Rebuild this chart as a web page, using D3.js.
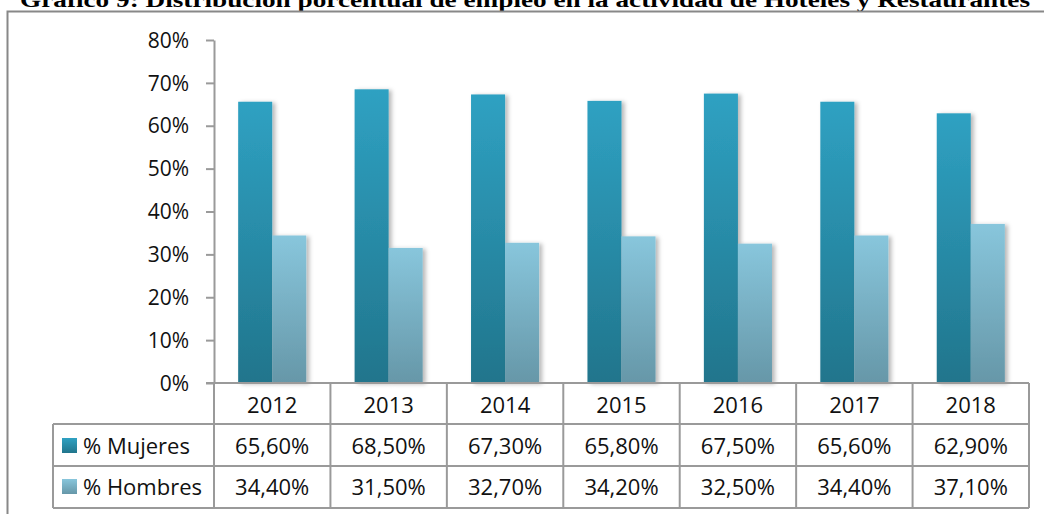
<!DOCTYPE html>
<html>
<head>
<meta charset="utf-8">
<script src="https://cdn.jsdelivr.net/npm/d3@7"></script>
<style>
  body { margin: 0; background: #fff; }
  svg { display: block; }
</style>
</head>
<body>
<div id="chart"></div>
<script>
var width = 1044,
    height = 514;

var years = ["2012", "2013", "2014", "2015", "2016", "2017", "2018"];
var mujeres = [65.6, 68.5, 67.3, 65.8, 67.5, 65.6, 62.9];
var hombres = [34.4, 31.5, 32.7, 34.2, 32.5, 34.4, 37.1];
var seriesNames = ["% Mujeres", "% Hombres"];
var yTicks = [0, 10, 20, 30, 40, 50, 60, 70, 80];

var fmt = function(v) { return v.toFixed(2).replace(".", ",") + "%"; };
var font = "'Open Sans', sans-serif";
var lineCol = "#9a9a9a";

var svg = d3.select("#chart")
    .append("svg")
    .attr("width", width)
    .attr("height", height);

var defs = svg.append("defs");

var grads = [["gMuj", "#2fa1c2", "#21758c"], ["gHom", "#88c6dc", "#6697a8"]];
grads.forEach(function(g) {
    var lg = defs.append("linearGradient")
        .attr("id", g[0])
        .attr("x1", 0).attr("y1", 0).attr("x2", 0).attr("y2", 1);
    lg.append("stop").attr("offset", "0%").attr("stop-color", g[1]);
    lg.append("stop").attr("offset", "100%").attr("stop-color", g[2]);
});

defs.append("filter")
    .attr("id", "shadow")
    .attr("x", "-20%").attr("y", "-5%").attr("width", "150%").attr("height", "110%")
    .append("feDropShadow")
    .attr("dx", 3).attr("dy", 1)
    .attr("stdDeviation", 2)
    .attr("flood-color", "#000")
    .attr("flood-opacity", 0.28);

// titulo (cortado arriba)
svg.append("text")
    .attr("x", 20)
    .attr("y", 7)
    .attr("textLength", 1010)
    .attr("lengthAdjust", "spacingAndGlyphs")
    .style("font-family", "'Liberation Serif', 'Times New Roman', serif")
    .style("font-weight", "bold")
    .style("font-size", "21px")
    .style("fill", "#000")
    .text("Gráfico 9: Distribución porcentual de empleo en la actividad de Hoteles y Restaurantes");

// marco exterior
svg.append("path")
    .attr("d", "M7.5,514 V11.5 H1044")
    .style("fill", "none")
    .style("stroke", "#888")
    .style("stroke-width", 2);

var x = d3.scaleBand()
    .domain(years)
    .range([214, 1029]);

var x1 = d3.scaleBand()
    .domain(seriesNames)
    .range([0, x.bandwidth()])
    .paddingOuter(0.71);

var y = d3.scaleLinear()
    .domain([0, 80])
    .range([383, 40]);

// eje Y
var yAxis = svg.append("g")
    .attr("transform", "translate(214,0)")
    .call(d3.axisLeft(y).tickValues(yTicks).tickSize(8).tickSizeOuter(0)
        .tickFormat(function(d) { return d + "%"; }));
yAxis.select(".domain").style("stroke", lineCol).style("stroke-width", 2);
yAxis.selectAll(".tick line").style("stroke", lineCol).style("stroke-width", 2);
yAxis.selectAll(".tick text")
    .attr("x", -25)
    .attr("dy", "0.34em")
    .style("font-family", font)
    .style("font-size", "21px")
    .style("fill", "#111");

// barras
var series = [mujeres, hombres];
var fills = ["url(#gMuj)", "url(#gHom)"];
series.forEach(function(vals, s) {
    svg.append("g")
        .attr("filter", "url(#shadow)")
        .selectAll("rect")
        .data(vals)
        .enter()
        .append("rect")
        .attr("x", function(d, i) { return x(years[i]) + x1(seriesNames[s]); })
        .attr("y", function(d) { return y(d); })
        .attr("width", x1.bandwidth())
        .attr("height", function(d) { return y(0) - y(d); })
        .style("fill", fills[s]);
});

// tabla de datos
var rowTop = [383, 424, 466, 508];
var table = svg.append("g");
var tableLeft = 53;

// linea del cero
table.append("line")
    .attr("x1", 206).attr("x2", 1029)
    .attr("y1", y(0)).attr("y2", y(0))
    .style("stroke", lineCol).style("stroke-width", 2);

// lineas horizontales
table.append("line")
    .attr("x1", tableLeft).attr("x2", 1029)
    .attr("y1", rowTop[1]).attr("y2", rowTop[1])
    .style("stroke", lineCol).style("stroke-width", 2);
table.append("line")
    .attr("x1", tableLeft).attr("x2", 1029)
    .attr("y1", rowTop[2]).attr("y2", rowTop[2])
    .style("stroke", lineCol).style("stroke-width", 2);
table.append("line")
    .attr("x1", tableLeft).attr("x2", 1029)
    .attr("y1", rowTop[3]).attr("y2", rowTop[3])
    .style("stroke", lineCol).style("stroke-width", 2);

// lineas verticales
var vx = years.map(function(d) { return x(d); }).concat([x(years[6]) + x.bandwidth()]);
table.selectAll(".vline")
    .data(vx)
    .enter()
    .append("line")
    .attr("x1", function(d) { return d; }).attr("x2", function(d) { return d; })
    .attr("y1", rowTop[0]).attr("y2", rowTop[3])
    .style("stroke", lineCol).style("stroke-width", 2);
table.append("line")
    .attr("x1", tableLeft).attr("x2", tableLeft)
    .attr("y1", rowTop[1]).attr("y2", rowTop[3])
    .style("stroke", lineCol).style("stroke-width", 2);

// anos
table.selectAll(".yr")
    .data(years)
    .enter()
    .append("text")
    .attr("x", function(d) { return x(d) + x.bandwidth() / 2; })
    .attr("y", 413)
    .attr("text-anchor", "middle")
    .style("font-family", font)
    .style("font-size", "22px")
    .style("fill", "#111")
    .text(function(d) { return d; });

var rowBase = [454, 495];
var legendFill = ["url(#gMuj)", "url(#gHom)"];
series.forEach(function(vals, s) {
    table.append("rect")
        .attr("x", 62)
        .attr("y", rowBase[s] - 16)
        .attr("width", 15)
        .attr("height", 15)
        .style("fill", legendFill[s]);
    table.append("text")
        .attr("x", 83)
        .attr("y", rowBase[s])
        .style("font-family", font)
        .style("font-size", "22px")
        .style("fill", "#111")
        .text(seriesNames[s]);
    table.selectAll(".v" + s)
        .data(vals)
        .enter()
        .append("text")
        .attr("x", function(d, i) { return x(years[i]) + x.bandwidth() / 2; })
        .attr("y", rowBase[s])
        .attr("text-anchor", "middle")
        .style("font-family", font)
        .style("font-size", "22px")
        .style("fill", "#111")
        .text(function(d) { return fmt(d); });
});
</script>
</body>
</html>
